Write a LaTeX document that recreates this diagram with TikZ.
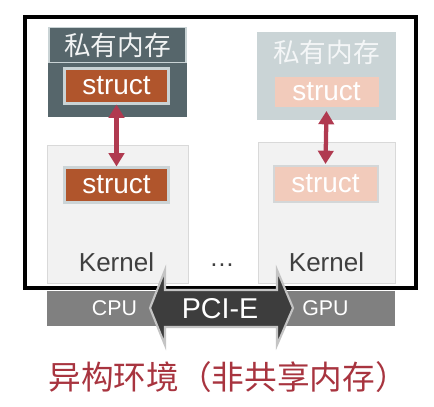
\documentclass[tikz,border=0pt]{standalone}
\usepackage{fontspec}
\setmainfont{Liberation Sans}
\newfontfamily\cjk{Noto Sans CJK SC}
\usetikzlibrary{arrows.meta}
\definecolor{slate}{HTML}{56666B}
\definecolor{slatefade}{HTML}{CAD4D6}
\definecolor{rust}{HTML}{B0552C}
\definecolor{rustfade}{HTML}{F2CBBB}
\definecolor{frameblue}{HTML}{C9D3D5}
\definecolor{kernelfill}{HTML}{F2F2F2}
\definecolor{kerneledge}{HTML}{D9D9D9}
\definecolor{barg}{HTML}{808080}
\definecolor{pcidark}{HTML}{3D3D3D}
\definecolor{pciedge}{HTML}{C4C4C4}
\definecolor{arrowred}{HTML}{B03A50}
\definecolor{captionred}{HTML}{A8343F}
\definecolor{kerneltext}{HTML}{404040}
\begin{document}
\begin{tikzpicture}[x=0.75pt,y=-0.75pt,
  every node/.style={inner sep=0pt,outer sep=0pt},
  privbox/.style={fill=slate,minimum width=104.25pt,minimum height=67.5pt},
  privfade/.style={fill=slatefade,minimum width=104.25pt,minimum height=66pt},
  titleband/.style={fill=slate,draw=frameblue,line width=1.1pt,minimum width=103pt,minimum height=26.5pt},
  titletext/.style={text=#1,font=\cjk\fontsize{20}{23}\selectfont},
  structbox/.style={fill=rust,draw=frameblue,line width=2.25pt,text=white,
    font=\fontsize{21}{25}\selectfont,minimum width=78pt,minimum height=26.25pt},
  structfade/.style={fill=rustfade,draw=none,text=white,
    font=\fontsize{21}{25}\selectfont,minimum width=78pt,minimum height=#1},
  kernelbox/.style={fill=kernelfill,draw=kerneledge,line width=0.75pt},
  kerneltxt/.style={text=kerneltext,font=\fontsize{19.5}{23}\selectfont},
  sync/.style={draw=arrowred,line width=3.2pt,
    {Triangle[width=11.5pt,length=10pt]}-{Triangle[width=11.5pt,length=10pt]}},
  bustxt/.style={text=white,font=\fontsize{16}{19}\selectfont},
]
\fill[white] (0,0) rectangle (434,406);
\useasboundingbox (0,0) rectangle (434,406);

% outer frame
\node[draw=black,line width=2.4pt,minimum width=293.25pt,minimum height=203.25pt] (frame) at (220.5,152.5) {};

% left column (CPU)
\node[privbox] (lpriv) at (117.5,72) {};
\node[titleband] (ltitle) at (117.5,45) {};
\node[titletext=white!92!slate] (ltitletxt) at (117.5,45.5) {私有内存};
\node[structbox] (lstructtop) at (116.5,86) {struct};
\node[kernelbox,minimum width=105.75pt,minimum height=103.5pt] (lkernel) at (117.5,214) {};
\node[structbox,draw=frameblue!80!kerneledge] (lstructbot) at (116.5,185) {struct};
\node[kerneltxt] (lkerneltxt) at (116.5,262) {Kernel};
\path (lstructtop.south) ++(0,1) coordinate (la) (lstructbot.north) ++(0,-1) coordinate (lb);
\draw[sync] (la) -- (lb);

% right column (GPU)
\node[privfade] (rpriv) at (326.5,76) {};
\node[titletext=white!80!slatefade] (rtitletxt) at (326.5,52) {私有内存};
\node[structfade=22.5pt] (rstructtop) at (326.5,92) {struct};
\node[kernelbox,minimum width=102.75pt,minimum height=105.75pt] (rkernel) at (326.5,212.5) {};
\node[structfade=27pt,draw=kerneledge!70!frameblue,line width=1.5pt] (rstructbot) at (325.5,184) {struct};
\node[kerneltxt] (rkerneltxt) at (326.5,262) {Kernel};
\path (rstructtop.south) ++(0,4) coordinate (ra) (rstructbot.north) ++(0,-2) coordinate (rb);
\draw[sync] (ra) -- (rb);

\node[text=kerneltext,font=\fontsize{19}{22}\selectfont] (dots) at (222,265) {…};

% bus
\node[fill=barg,minimum width=261pt,minimum height=26.25pt] (bus) at (221,308.5) {};
\node[bustxt] (cpu) at (114.5,308.5) {CPU};
\node[bustxt] (gpu) at (325.5,308.5) {GPU};
\draw[fill=pcidark,draw=pciedge,line width=1.6pt,line join=miter]
  (150,308) -- (165,270) -- (165,290) -- (277,290) -- (277,270) -- (293,308)
  -- (277,345) -- (277,327) -- (165,327) -- (165,345) -- cycle;
\node[text=white,font=\fontsize{21.5}{25}\selectfont] (pcie) at (220,308.5) {PCI-E};

% caption
\node[text=captionred,font=\cjk\fontsize{24.5}{29}\selectfont] (caption) at (228,377) {异构环境（非共享内存）};
\end{tikzpicture}
\end{document}
